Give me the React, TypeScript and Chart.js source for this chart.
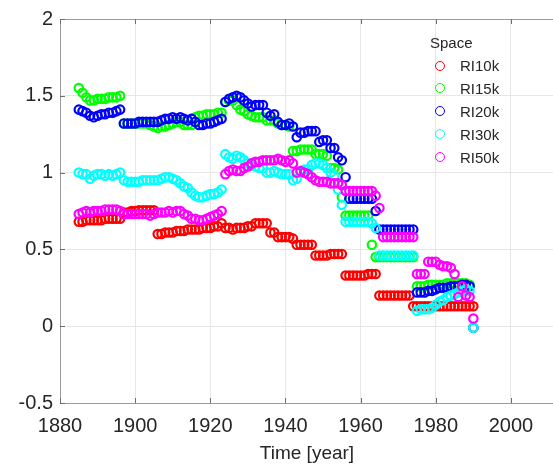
import React, { useEffect, useRef } from "react";
import { Chart, registerables } from "chart.js";

Chart.register(...registerables);

// ---- data ----
const years = [
  1885, 1886, 1887, 1888, 1889,
  1890, 1891, 1892, 1893, 1894, 1895, 1896, 1897, 1898, 1899,
  1900, 1901, 1902, 1903, 1904, 1905, 1906, 1907, 1908, 1909,
  1910, 1911, 1912, 1913, 1914, 1915, 1916, 1917, 1918, 1919,
  1920, 1921, 1922, 1923, 1924, 1925, 1926, 1927, 1928, 1929,
  1930, 1931, 1932, 1933, 1934, 1935, 1936, 1937, 1938, 1939,
  1940, 1941, 1942, 1943, 1944, 1945, 1946, 1947, 1948, 1949,
  1950, 1951, 1952, 1953, 1954, 1955, 1956, 1957, 1958, 1959,
  1960, 1961, 1962, 1963, 1964, 1965, 1966, 1967, 1968, 1969,
  1970, 1971, 1972, 1973, 1974, 1975, 1976, 1977, 1978, 1979,
  1980, 1981, 1982, 1983, 1984, 1985, 1986, 1987, 1988, 1989,
  1990,
];

const ri10k: (number | null)[] = [
  0.68, 0.68, 0.69, 0.69, 0.69,
  0.69, 0.69, 0.70, 0.70, 0.70, 0.70, 0.70, 0.74, 0.74, 0.75,
  0.75, 0.755, 0.755, 0.755, 0.755, 0.755, 0.60, 0.60, 0.61, 0.61,
  0.61, 0.62, 0.62, 0.62, 0.63, 0.63, 0.63, 0.63, 0.64, 0.64,
  0.64, 0.65, 0.65, 0.67, 0.64, 0.64, 0.63, 0.64, 0.64, 0.64,
  0.65, 0.65, 0.67, 0.67, 0.67, 0.67, 0.61, 0.61, 0.58, 0.58,
  0.58, 0.58, 0.57, 0.53, 0.53, 0.53, 0.53, 0.53, 0.46, 0.46,
  0.46, 0.46, 0.47, 0.47, 0.47, 0.47, 0.33, 0.33, 0.33, 0.33,
  0.33, 0.33, 0.34, 0.34, 0.34, 0.20, 0.20, 0.20, 0.20, 0.20,
  0.20, 0.20, 0.20, 0.20, 0.13, 0.13, 0.13, 0.13, 0.13, 0.13,
  0.13, 0.13, 0.13, 0.13, 0.13, 0.13, 0.13, 0.13, 0.13, 0.13,
  0.13,
];

const ri15k: (number | null)[] = [
  1.55, 1.52, 1.49, 1.47, 1.47,
  1.48, 1.48, 1.48, 1.49, 1.49, 1.49, 1.50, 1.32, 1.32, 1.32,
  1.32, 1.32, 1.32, 1.32, 1.31, 1.30, 1.29, 1.30, 1.30, 1.31,
  1.32, 1.33, 1.33, 1.31, 1.31, 1.31, 1.36, 1.37, 1.37, 1.38,
  1.38, 1.38, 1.39, 1.39, 1.46, 1.47, 1.47, 1.44, 1.41, 1.40,
  1.38, 1.37, 1.36, 1.36, 1.36, 1.34, 1.34, 1.34, 1.32, 1.31,
  1.31, 1.30, 1.14, 1.14, 1.15, 1.15, 1.15, 1.15, 1.12, 1.12,
  1.12, 1.11, 1.03, 1.03, 1.02, 0.84, 0.72, 0.72, 0.72, 0.72,
  0.72, 0.72, 0.72, 0.53, 0.45, 0.45, 0.45, 0.45, 0.45, 0.45,
  0.45, 0.45, 0.45, 0.45, 0.45, 0.26, 0.26, 0.26, 0.27, 0.27,
  0.27, 0.27, 0.27, 0.28, 0.28, 0.28, 0.28, 0.28, 0.28, 0.27,
  null,
];

const ri20k: (number | null)[] = [
  1.41, 1.40, 1.39, 1.37, 1.36,
  1.37, 1.38, 1.38, 1.39, 1.39, 1.40, 1.41, 1.32, 1.32, 1.32,
  1.32, 1.33, 1.33, 1.33, 1.33, 1.33, 1.33, 1.34, 1.35, 1.35,
  1.36, 1.35, 1.36, 1.35, 1.34, 1.35, 1.33, 1.31, 1.31, 1.32,
  1.32, 1.33, 1.34, 1.35, 1.46, 1.48, 1.49, 1.50, 1.49, 1.47,
  1.45, 1.43, 1.44, 1.44, 1.44, 1.39, 1.37, 1.38, 1.33, 1.31,
  1.31, 1.32, 1.30, 1.23, 1.26, 1.26, 1.27, 1.27, 1.27, 1.20,
  1.21, 1.21, 1.16, 1.16, 1.10, 1.08, 0.97, 0.83, 0.83, 0.83,
  0.83, 0.83, 0.83, 0.83, 0.75, 0.63, 0.63, 0.63, 0.63, 0.63,
  0.63, 0.63, 0.63, 0.63, 0.63, 0.22, 0.22, 0.22, 0.23, 0.23,
  0.24, 0.25, 0.25, 0.25, 0.26, 0.26, 0.26, 0.27, 0.27, 0.26,
  -0.01,
];

const ri30k: (number | null)[] = [
  1.00, 0.99, 0.99, 0.96, 0.98,
  0.99, 0.99, 0.98, 0.99, 0.98, 0.99, 1.00, 0.95, 0.94, 0.94,
  0.94, 0.94, 0.95, 0.95, 0.95, 0.95, 0.95, 0.96, 0.97, 0.97,
  0.96, 0.95, 0.93, 0.91, 0.90, 0.87, 0.85, 0.84, 0.84, 0.85,
  0.86, 0.86, 0.87, 0.89, 1.12, 1.10, 1.09, 1.11, 1.10, 1.08,
  1.06, 1.05, 1.04, 1.03, 1.03, 1.00, 1.00, 1.01, 1.00, 0.99,
  0.99, 0.99, 0.95, 0.96, 1.00, 1.02, 1.02, 1.05, 1.06, 1.06,
  1.05, 1.03, 1.00, 0.98, 0.89, 0.79, 0.68, 0.68, 0.68, 0.68,
  0.68, 0.68, 0.68, 0.67, 0.64, 0.46, 0.46, 0.46, 0.46, 0.46,
  0.46, 0.46, 0.46, 0.46, 0.46, 0.10, 0.11, 0.11, 0.11, 0.12,
  0.14, 0.16, 0.17, 0.19, 0.20, 0.21, 0.22, 0.23, 0.24, 0.23,
  -0.01,
];

const ri50k: (number | null)[] = [
  0.73, 0.74, 0.75, 0.74, 0.75,
  0.75, 0.75, 0.76, 0.76, 0.76, 0.76, 0.75, 0.73, 0.73, 0.73,
  0.73, 0.73, 0.73, 0.73, 0.72, 0.73, 0.74, 0.74, 0.74, 0.75,
  0.74, 0.75, 0.75, 0.73, 0.72, 0.70, 0.70, 0.69, 0.69, 0.70,
  0.71, 0.72, 0.73, 0.75, 0.99, 1.01, 1.02, 1.01, 1.01, 1.03,
  1.04, 1.06, 1.07, 1.07, 1.08, 1.08, 1.08, 1.08, 1.09, 1.08,
  1.07, 1.08, 1.06, 1.00, 1.01, 1.00, 0.99, 0.97, 0.95, 0.94,
  0.94, 0.94, 0.93, 0.93, 0.93, 0.92, 0.88, 0.88, 0.88, 0.88,
  0.88, 0.88, 0.88, 0.88, 0.85, 0.77, 0.58, 0.58, 0.58, 0.58,
  0.58, 0.58, 0.58, 0.58, 0.58, 0.34, 0.34, 0.34, 0.42, 0.42,
  0.42, 0.40, 0.39, 0.39, 0.38, 0.34, 0.19, 0.26, 0.20, 0.19,
  0.05,
];

const seriesLabels = ["RI10k", "RI15k", "RI20k", "RI30k", "RI50k"];
const seriesColors = ["#ff0000", "#00ff00", "#0000ff", "#00ffff", "#ff00ff"];
const seriesValues = [ri10k, ri15k, ri20k, ri30k, ri50k];

const xTicks = [1880, 1900, 1920, 1940, 1960, 1980, 2000];
const yTicks = [-0.5, 0, 0.5, 1, 1.5, 2];
const legendTitle = "Space";
const xTitle = "Time [year]";

const FONT = "'Liberation Sans', Arial, Helvetica, sans-serif";
const TEXT = "#262626";
const AXIS = "#9a9a9a";
const GRID = "#e6e6e6";

const boxPlugin = {
  id: "matlabBox",
  beforeDatasetsDraw(chart: any) {
    const { ctx, chartArea: a, scales } = chart;
    ctx.save();
    ctx.strokeStyle = AXIS;
    ctx.lineWidth = 1;
    ctx.beginPath();
    ctx.moveTo(a.left, Math.round(a.top) + 0.5);
    ctx.lineTo(a.right, Math.round(a.top) + 0.5);
    ctx.stroke();
    ctx.strokeStyle = "#6e6e6e";
    ctx.beginPath();
    const tl = 5;
    for (const v of xTicks) {
      const px = Math.round(scales.x.getPixelForValue(v)) + 0.5;
      ctx.moveTo(px, a.bottom);
      ctx.lineTo(px, a.bottom - tl);
      ctx.moveTo(px, a.top);
      ctx.lineTo(px, a.top + tl);
    }
    for (const v of yTicks) {
      const py = Math.round(scales.y.getPixelForValue(v)) + 0.5;
      ctx.moveTo(a.left, py);
      ctx.lineTo(a.left + tl, py);
    }
    ctx.stroke();
    ctx.restore();
  },
};

export default function App() {
  const canvasRef = useRef<HTMLCanvasElement | null>(null);

  useEffect(() => {
    const canvas = canvasRef.current;
    if (!canvas) return;
    const datasets = seriesValues.map((vals, s) => ({
      label: seriesLabels[s],
      data: years
        .map((x, i) => ({ x, y: vals[i] }))
        .filter((p) => p.y !== null),
      showLine: false,
      pointStyle: "circle",
      pointRadius: 4.2,
      pointBorderWidth: 2.2,
      pointBackgroundColor: "rgba(0,0,0,0)",
      pointBorderColor: seriesColors[s],
      borderColor: seriesColors[s],
      backgroundColor: "rgba(0,0,0,0)",
      order: seriesValues.length - s,
    }));

    const chart = new Chart(canvas, {
      type: "scatter",
      data: { datasets } as any,
      options: {
        responsive: false,
        animation: false,
        events: [],
        layout: { padding: { top: 19, left: 0, right: 0, bottom: 0 } },
        plugins: {
          legend: { display: false },
          tooltip: { enabled: false },
        },
        scales: {
          x: {
            type: "linear",
            min: 1880,
            max: 2022,
            afterBuildTicks: (axis: any) => {
              axis.ticks = xTicks.map((v) => ({ value: v }));
            },
            afterFit: (axis: any) => {
              axis.height = 62;
            },
            grid: {
              color: (c: any) =>
                c.tick && xTicks.includes(c.tick.value) ? GRID : "rgba(0,0,0,0)",
              drawTicks: false,
              lineWidth: 1,
            },
            border: { color: AXIS, width: 1 },
            ticks: {
              color: TEXT,
              padding: 11,
              maxRotation: 0,
              autoSkip: false,
              includeBounds: false,
              stepSize: 20,
              font: { family: FONT, size: 20 },
              callback: (v: any) => String(v),
            },
            title: { display: false },
          },
          y: {
            type: "linear",
            min: -0.5,
            max: 2,
            afterBuildTicks: (axis: any) => {
              axis.ticks = yTicks.map((v) => ({ value: v }));
            },
            afterFit: (axis: any) => {
              axis.width = 60;
            },
            grid: { color: GRID, drawTicks: false, lineWidth: 1 },
            border: { color: AXIS, width: 1 },
            ticks: {
              color: TEXT,
              padding: 7,
              font: { family: FONT, size: 20 },
              callback: (v: any) => String(v),
            },
          },
        },
      } as any,
      plugins: [boxPlugin],
    });
    return () => chart.destroy();
  }, []);

  const rowTop = 54;
  const rowH = 22.9;

  return (
    <div
      style={{
        position: "fixed",
        left: 0,
        top: 0,
        width: 553,
        height: 465,
        overflow: "hidden",
        background: "#ffffff",
      }}
    >
      <canvas
        ref={canvasRef}
        width={600}
        height={465}
        style={{ position: "absolute", left: 0, top: 0, width: 600, height: 465 }}
      />
      <div
        style={{
          position: "absolute",
          left: 207,
          width: 200,
          top: 441,
          textAlign: "center",
          fontFamily: FONT,
          fontSize: 19,
          lineHeight: "23px",
          color: TEXT,
          whiteSpace: "nowrap",
        }}
      >
        {xTitle}
      </div>
      <div
        style={{
          position: "absolute",
          left: 430,
          top: 33,
          fontFamily: FONT,
          fontSize: 15,
          lineHeight: "20px",
          color: TEXT,
          whiteSpace: "nowrap",
        }}
      >
        {legendTitle}
      </div>
      {seriesLabels.map((lab, i) => (
        <div
          key={lab}
          style={{
            position: "absolute",
            left: 435,
            top: rowTop + i * rowH,
            height: 23,
            display: "flex",
            alignItems: "center",
            fontFamily: FONT,
            fontSize: 15,
            color: TEXT,
            whiteSpace: "nowrap",
          }}
        >
          <span
            style={{
              display: "inline-block",
              width: 10,
              height: 10,
              boxSizing: "border-box",
              border: `1.8px solid ${seriesColors[i]}`,
              borderRadius: "50%",
              marginRight: 15,
            }}
          />
          <span>{lab}</span>
        </div>
      ))}
    </div>
  );
}
